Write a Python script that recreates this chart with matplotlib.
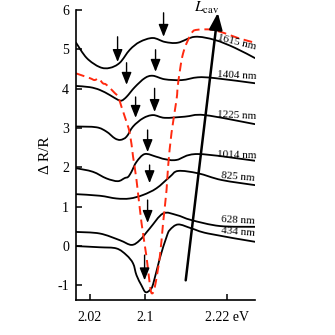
import matplotlib
matplotlib.use("Agg")
import matplotlib.pyplot as plt
from matplotlib.path import Path
from matplotlib.patches import PathPatch

plt.rcParams['font.family'] = ['Liberation Serif', 'DejaVu Serif']
plt.rcParams['mathtext.fontset'] = 'stix'

# ---- data ----
x_1615 = [2.0, 2.0156, 2.0346, 2.0492, 2.0638, 2.0784, 2.093, 2.112, 2.1295, 2.1485, 2.1733, 2.2025, 2.2317, 2.2609]
y_1615 = [5.17, 4.78, 4.55, 4.53, 4.66, 4.99, 5.19, 5.29, 5.19, 5.17, 5.32, 5.24, 5.04, 4.78]

x_1404 = [2.0, 2.02, 2.0346, 2.0492, 2.0609, 2.0667, 2.074, 2.0857, 2.1003, 2.112, 2.1295, 2.1543, 2.1777, 2.2025, 2.2609]
y_1404 = [4.07, 4.04, 3.97, 3.84, 3.72, 3.70, 3.80, 4.04, 4.27, 4.33, 4.24, 4.22, 4.29, 4.27, 4.14]

x_1225 = [2.0, 2.0298, 2.0444, 2.0565, 2.0648, 2.0736, 2.0832, 2.0978, 2.1124, 2.1295, 2.1587, 2.1879, 2.2609]
y_1225 = [3.04, 3.02, 2.91, 2.74, 2.70, 2.78, 3.04, 3.25, 3.33, 3.26, 3.29, 3.33, 3.10]

x_1014 = [2.0, 2.0244, 2.0444, 2.0609, 2.0711, 2.0760, 2.0809, 2.0882, 2.1003, 2.1174, 2.1295, 2.1466, 2.1777, 2.2609]
y_1014 = [1.98, 1.89, 1.72, 1.65, 1.73, 1.76, 1.89, 2.14, 2.34, 2.27, 2.21, 2.19, 2.34, 2.17]

x_825 = [2.0, 2.0346, 2.059, 2.0784, 2.0978, 2.1174, 2.1368, 2.1489, 2.1781, 2.2123, 2.2609]
y_825 = [1.32, 1.28, 1.21, 1.21, 1.30, 1.47, 1.76, 1.91, 1.85, 1.68, 1.55]

x_628 = [2.0, 2.0346, 2.0638, 2.0809, 2.093, 2.1076, 2.127, 2.1466, 2.1685, 2.2098, 2.2609]
y_628 = [0.36, 0.32, 0.15, 0.03, 0.15, 0.45, 0.83, 0.79, 0.66, 0.51, 0.49]

x_434 = [2.0, 2.0346, 2.059, 2.0736, 2.0832, 2.0882, 2.0955, 2.1013, 2.1076, 2.1124, 2.1222, 2.132, 2.1368, 2.1489, 2.1685, 2.1927, 2.2609]
y_434 = [0.0, -0.03, -0.06, -0.23, -0.44, -0.74, -1.0, -1.17, -1.12, -0.97, -0.31, 0.23, 0.41, 0.55, 0.45, 0.32, 0.11]

x_red = [2.0, 2.02, 2.0270, 2.0330, 2.0390, 2.0444, 2.0565, 2.0613, 2.0663, 2.0711, 2.0784, 2.0832, 2.0882,
         2.0955, 2.1028, 2.1076, 2.1105, 2.1149, 2.1222, 2.1270, 2.1320, 2.1343, 2.1393, 2.1466, 2.1489,
         2.1562, 2.1685, 2.1777, 2.1977, 2.2171, 2.2361, 2.2609]
y_red = [4.39, 4.27, 4.22, 4.26, 4.14, 4.10, 3.89, 3.80, 3.54, 3.29, 2.87, 2.27, 1.68,
         0.59, -0.27, -0.97, -1.2, -1.04, -0.27, 0.59, 1.42, 2.02, 2.88, 3.72, 4.14,
         4.90, 5.41, 5.5, 5.5, 5.41, 5.29, 5.17]

labels = ['1615 nm', '1404 nm', '1225 nm', '1014 nm', '825 nm', '628 nm', '434 nm']
label_x = [2.235, 2.235, 2.235, 2.234, 2.236, 2.236, 2.236]
label_y = [5.17, 4.33, 3.33, 2.32, 1.76, 0.66, 0.36]
label_rot = [-14, -3, -3, -2, -5, -3, -5]

arrow_x = [2.0606, 2.1277, 2.0737, 2.1160, 2.0869, 2.1146, 2.1044, 2.1073, 2.1044, 2.1000]
arrow_top = [5.32, 5.93, 4.66, 4.99, 3.79, 4.01, 2.95, 2.06, 1.17, -0.23]
arrow_tip = [4.68, 5.32, 4.10, 4.43, 3.26, 3.41, 2.39, 1.60, 0.59, -0.87]

lcav_start = (2.160, -0.87)
lcav_end = (2.2069, 5.93)

xticks = [2.02, 2.1, 2.22]
xticklabels = ['2.02', '2.1', '2.22 eV']
yticks = [-1, 0, 1, 2, 3, 4, 5, 6]


def smooth_path(xs, ys):
    pts = list(zip(xs, ys))
    verts = [pts[0]]
    codes = [Path.MOVETO]
    n = len(pts)
    for i in range(n - 1):
        p0 = pts[i - 1] if i > 0 else pts[i]
        p1 = pts[i]
        p2 = pts[i + 1]
        p3 = pts[i + 2] if i + 2 < n else pts[i + 1]
        c1 = (p1[0] + (p2[0] - p0[0]) / 6.0, p1[1] + (p2[1] - p0[1]) / 6.0)
        c2 = (p2[0] - (p3[0] - p1[0]) / 6.0, p2[1] - (p3[1] - p1[1]) / 6.0)
        verts += [c1, c2, p2]
        codes += [Path.CURVE4] * 3
    return Path(verts, codes)


# ---- figure ----
fig = plt.figure(figsize=(3.35, 3.35), dpi=100)
ax = fig.add_axes([0.227, 0.1045, 0.534, 0.8655])

curves = [(x_1615, y_1615), (x_1404, y_1404), (x_1225, y_1225), (x_1014, y_1014),
          (x_825, y_825), (x_628, y_628), (x_434, y_434)]
for xs, ys in curves:
    ax.add_patch(PathPatch(smooth_path(xs, ys), fill=False, edgecolor='black',
                           lw=1.3, capstyle='round', joinstyle='round'))

ax.add_patch(PathPatch(smooth_path(x_red, y_red), fill=False, edgecolor='#ff2a10',
                       lw=1.4, linestyle=(0, (4.5, 2.5))))

for t, lx, ly, r in zip(labels, label_x, label_y, label_rot):
    ax.text(lx, ly, t, fontsize=8, ha='center', va='center', rotation=r)

for xa, yt, yb in zip(arrow_x, arrow_top, arrow_tip):
    ax.annotate('', xy=(xa, yb), xytext=(xa, yt),
                arrowprops=dict(arrowstyle='-|>,head_length=0.75,head_width=0.3',
                                color='black', lw=1.0, mutation_scale=10,
                                shrinkA=0, shrinkB=0))

ax.annotate('', xy=lcav_end, xytext=lcav_start,
            arrowprops=dict(arrowstyle='-|>,head_length=1.0,head_width=0.4',
                            color='black', lw=1.8, mutation_scale=10,
                            shrinkA=0, shrinkB=0))
ax.text(2.191, 6.06, r'$L_{\mathrm{cav}}$', fontsize=11, ha='center', va='center', clip_on=False)

ax.set_xlim(2.0, 2.261)
ax.set_ylim(-1.37, 6.0)
ax.spines['top'].set_visible(False)
ax.spines['right'].set_visible(False)
for s in ['left', 'bottom']:
    ax.spines[s].set_linewidth(1.2)

ax.set_xticks(xticks)
ax.set_xticklabels(xticklabels)
ax.set_yticks(yticks)
ax.set_yticklabels([str(v) for v in yticks])
ax.tick_params(axis='x', direction='in', length=4, width=1.1, pad=8, labelsize=10)
ax.tick_params(axis='y', direction='in', length=4, width=1.1, pad=5, labelsize=10)
ax.set_ylabel('Δ R/R', fontsize=11, labelpad=4)

fig.savefig('out.png', dpi=100)
